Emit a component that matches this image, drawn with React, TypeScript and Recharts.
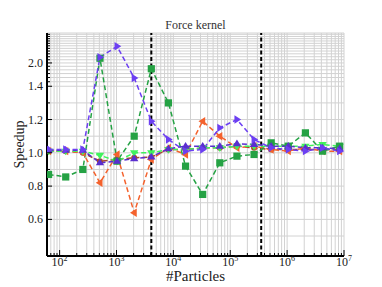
import React from 'react';
import { LineChart, Line, XAxis, YAxis, CartesianGrid, ReferenceLine } from 'recharts';

// Number of particles per run (powers of two)
const particles = [
  64, 128, 256, 512, 1024, 2048, 4096, 8192, 16384, 32768, 65536, 131072,
  262144, 524288, 1048576, 2097152, 4194304, 8388608,
];

// Speedup per run
const speedupViolet = [1.02, 1.02, 1.02, 2.18, 2.58, 1.59, 1.19, 1.08, 1.01, 1.02, 1.15, 1.2, 1.08, 1.03, 1.02, 1.01, 1.03, 1.01];
const speedupGreen = [0.87, 0.855, 0.9, 2.15, 0.95, 1.1, 1.83, 1.3, 0.92, 0.75, 0.94, 0.98, 0.99, 1.06, 1.04, 1.12, 1.01, 1.04];
const speedupOrange = [1.01, 1.01, 1.0, 0.82, 0.99, 0.64, 0.96, 1.03, 0.99, 1.19, 1.1, 1.03, 1.04, 1.02, 1.01, 1.03, 1.01, 1.01];
const speedupLime = [1.01, 1.01, 1.01, 0.985, 0.95, 1.0, 1.0, 1.02, 1.02, 1.03, 1.03, 1.04, 1.04, 1.04, 1.04, 1.04, 1.05, 1.04];
const speedupIndigo = [1.015, 1.015, 1.015, 0.94, 0.95, 0.965, 0.975, 1.025, 1.04, 1.04, 1.04, 1.055, 1.05, 1.04, 1.04, 1.03, 1.03, 1.025];
const speedupBrown = [1.01, 1.01, 1.0, 0.95, 0.96, 0.97, 0.975, 1.02, 1.02, 1.03, 1.03, 1.04, 1.03, 1.02, 1.02, 1.02, 1.02, 1.02];

// Cache boundaries (dashed verticals)
const boundaries = [4096, 350000];

// Axis ticks
const xMajorTicks = [1e2, 1e3, 1e4, 1e5, 1e6, 1e7];
const yLabelSpeedups = [0.6, 0.8, 1.0, 1.2, 1.4, 2.0];
const xDomain = [60, 1e7];

// y axis is linear up to 1.4, logarithmic above
const LIN_TOP = 1.4;
const LOG_GAIN = 0.904;
const toAxis = (v: number) => (v <= LIN_TOP ? v : LIN_TOP + LOG_GAIN * Math.log10(v / LIN_TOP));
const yDomain = [0.38, 1.72];

const FONT = '"Liberation Serif", "DejaVu Serif", serif';

const xTicks: number[] = [];
for (let e = 1; e <= 7; e++) {
  for (let k = 1; k <= 9; k++) {
    const v = k * Math.pow(10, e);
    if (v >= xDomain[0] && v <= xDomain[1]) xTicks.push(v);
  }
}
const yGridSpeedups = Array.from({ length: 27 }, (_, i) => Math.round((0.5 + i * 0.1) * 10) / 10);
const yTicks = yGridSpeedups.map(toAxis);

const isMajorX = (v: number) => xMajorTicks.some((m) => Math.abs(m - v) / m < 1e-9);
const yLabelFor = (t: number) => yLabelSpeedups.find((v) => Math.abs(toAxis(v) - t) < 1e-6);

const rows = particles.map((n, i) => ({
  n,
  violet: toAxis(speedupViolet[i]),
  green: toAxis(speedupGreen[i]),
  orange: toAxis(speedupOrange[i]),
  lime: toAxis(speedupLime[i]),
  indigo: toAxis(speedupIndigo[i]),
  brown: toAxis(speedupBrown[i]),
}));

type Shape = 'right' | 'left' | 'up' | 'down' | 'square' | 'circle';

function Marker({ cx, cy, shape, color }: { cx: number; cy: number; shape: Shape; color: string }) {
  const r = 4.2;
  if (cx == null || cy == null) return null;
  if (shape === 'square') {
    return <rect x={cx - 3.6} y={cy - 3.6} width={7.2} height={7.2} fill={color} />;
  }
  if (shape === 'circle') {
    return <circle cx={cx} cy={cy} r={3} fill={color} />;
  }
  let pts = '';
  if (shape === 'right') pts = `${cx + r},${cy} ${cx - r * 0.6},${cy - r} ${cx - r * 0.6},${cy + r}`;
  if (shape === 'left') pts = `${cx - r},${cy} ${cx + r * 0.6},${cy - r} ${cx + r * 0.6},${cy + r}`;
  if (shape === 'up') pts = `${cx},${cy - r} ${cx - r},${cy + r * 0.6} ${cx + r},${cy + r * 0.6}`;
  if (shape === 'down') pts = `${cx},${cy + r} ${cx - r},${cy - r * 0.6} ${cx + r},${cy - r * 0.6}`;
  return <polygon points={pts} fill={color} />;
}

const dotOf = (shape: Shape, color: string) => (p: any) => (
  <Marker key={`${shape}-${p.index}`} cx={p.cx} cy={p.cy} shape={shape} color={color} />
);

function BottomTick(p: any) {
  const v = p.payload.value;
  const major = isMajorX(v);
  const len = major ? 6 : 3;
  const exp = Math.round(Math.log10(v));
  return (
    <g>
      <line x1={p.x} x2={p.x} y1={p.y} y2={p.y - len} stroke="#000" strokeWidth={1} />
      {major && (
        <text x={p.x} y={p.y + 10} textAnchor="middle" fontSize={12} fill="#222" style={{ fontFamily: FONT }}>
          10
          <tspan dy={-5} fontSize={8}>{exp}</tspan>
        </text>
      )}
    </g>
  );
}

function TopTick(p: any) {
  const len = isMajorX(p.payload.value) ? 6 : 3;
  return <line x1={p.x} x2={p.x} y1={p.y} y2={p.y + len} stroke="#000" strokeWidth={1} />;
}

function LeftTick(p: any) {
  const label = yLabelFor(p.payload.value);
  const ax = p.x + 4;
  return (
    <g>
      <line x1={ax} x2={ax + (label != null ? 5 : 3)} y1={p.y} y2={p.y} stroke="#000" strokeWidth={1} />
      {label != null && (
        <text x={p.x} y={p.y + 4} textAnchor="end" fontSize={12} fill="#222" style={{ fontFamily: FONT }}>
          {label.toFixed(1)}
        </text>
      )}
    </g>
  );
}

function RightTick(p: any) {
  const label = yLabelFor(p.payload.value);
  return <line x1={p.x} x2={p.x - (label != null ? 5 : 3)} y1={p.y} y2={p.y} stroke="#000" strokeWidth={1} />;
}

const series: { key: string; shape: Shape; color: string }[] = [
  { key: 'brown', shape: 'circle', color: '#a4492a' },
  { key: 'orange', shape: 'left', color: '#f4622d' },
  { key: 'lime', shape: 'down', color: '#3ff25c' },
  { key: 'green', shape: 'square', color: '#25a244' },
  { key: 'indigo', shape: 'up', color: '#5a2ecf' },
  { key: 'violet', shape: 'right', color: '#6c3ff2' },
];

const axisLine = { stroke: '#000', strokeWidth: 2 };

export default function App() {
  return (
    <div
      style={{
        position: 'absolute',
        left: 0,
        top: 0,
        width: 382,
        height: 287,
        background: '#fff',
        fontFamily: FONT,
      }}
    >
      <LineChart width={382} height={287} data={rows} margin={{ top: 33, right: 38, bottom: 0, left: 0 }}>
        <CartesianGrid stroke="#d2d2d2" strokeWidth={1} />
        <XAxis
          dataKey="n"
          type="number"
          scale="log"
          domain={xDomain}
          allowDataOverflow
          ticks={xTicks}
          interval={0}
          height={31}
          tickSize={0}
          tickMargin={0}
          tick={(p: any) => <BottomTick {...p} />}
          axisLine={axisLine}
        />
        <XAxis
          xAxisId="top"
          orientation="top"
          dataKey="n"
          type="number"
          scale="log"
          domain={xDomain}
          allowDataOverflow
          ticks={xTicks}
          interval={0}
          height={0}
          tickSize={0}
          tickMargin={0}
          tick={(p: any) => <TopTick {...p} />}
          axisLine={axisLine}
        />
        <YAxis
          type="number"
          domain={yDomain}
          allowDataOverflow
          ticks={yTicks}
          interval={0}
          width={47}
          tickSize={0}
          tickMargin={4}
          tick={(p: any) => <LeftTick {...p} />}
          axisLine={axisLine}
        />
        <YAxis
          yAxisId="right"
          orientation="right"
          type="number"
          domain={yDomain}
          allowDataOverflow
          ticks={yTicks}
          interval={0}
          width={0}
          tickSize={0}
          tickMargin={0}
          tick={(p: any) => <RightTick {...p} />}
          axisLine={axisLine}
        />
        {boundaries.map((b) => (
          <ReferenceLine key={b} x={b} stroke="#000" strokeWidth={2} strokeDasharray="4 2.5" />
        ))}
        {series.map((s) => (
          <Line
            key={s.key}
            dataKey={s.key}
            stroke={s.color}
            strokeWidth={1.5}
            strokeDasharray="5 3"
            dot={dotOf(s.shape, s.color)}
            activeDot={false}
            isAnimationActive={false}
          />
        ))}
      </LineChart>
      <svg
        width={382}
        height={287}
        style={{ position: 'absolute', left: 0, top: 0, pointerEvents: 'none', fontFamily: FONT }}
      >
        <text x={195.5} y={29} textAnchor="middle" fontSize={12} fill="#333" style={{ fontFamily: FONT }}>
          Force kernel
        </text>
        <text x={195.5} y={281} textAnchor="middle" fontSize={15} fill="#222" style={{ fontFamily: FONT }}>
          #Particles
        </text>
        <text
          x={24}
          y={144.5}
          textAnchor="middle"
          fontSize={14}
          fill="#222"
          transform="rotate(-90 24 144.5)"
          style={{ fontFamily: FONT }}
        >
          Speedup
        </text>
      </svg>
    </div>
  );
}
